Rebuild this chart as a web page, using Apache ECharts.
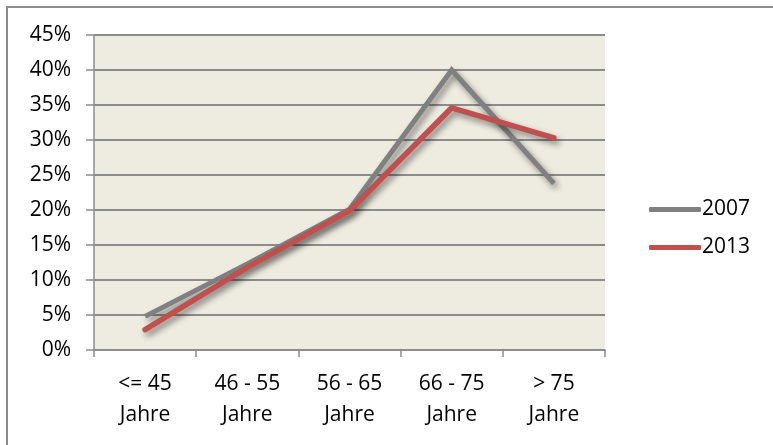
<!DOCTYPE html>
<html>
<head>
<meta charset="utf-8">
<script src="https://cdn.jsdelivr.net/npm/echarts@6/dist/echarts.min.js"></script>
<style>
  html, body { margin: 0; padding: 0; background: #fff; }
  #chart { width: 773px; height: 445px; }
</style>
</head>
<body>
<div id="chart"></div>
<script>
// Altersgruppen
var categories = ['<= 45\nJahre', '46 - 55\nJahre', '56 - 65\nJahre', '66 - 75\nJahre', '> 75\nJahre'];
// Anteile in %
var values2007 = [4.8, 12.3, 20.1, 40.0, 23.8];
var values2013 = [2.9, 11.8, 19.9, 34.6, 30.3];
var yTicks = [0, 5, 10, 15, 20, 25, 30, 35, 40, 45];

var chart = echarts.init(document.getElementById('chart'));

var lineShadow = {
    shadowColor: 'rgba(0,0,0,0.45)',
    shadowBlur: 6,
    shadowOffsetX: 3,
    shadowOffsetY: 4
};

var option = {
    animation: false,
    textStyle: { fontFamily: 'Open Sans', color: '#000' },
    // nur oberer und linker Rahmen sichtbar (Bild beschnitten)
    graphic: [{
        type: 'rect',
        shape: { x: 7, y: 7, width: 820, height: 480 },
        style: { fill: null, stroke: '#8c8c8c', lineWidth: 2 },
        silent: true
    }],
    grid: {
        left: 94, right: 168, top: 35, bottom: 95,
        show: true,
        backgroundColor: '#EEEBE0',
        borderWidth: 0
    },
    legend: {
        orient: 'vertical',
        left: 644, top: 194,
        itemWidth: 52, itemHeight: 5,
        itemGap: 17,
        icon: 'roundRect',
        textStyle: { fontSize: 21, fontFamily: 'Open Sans', color: '#000', padding: [0, 0, 0, -4] },
        data: ['2007', '2013']
    },
    xAxis: {
        type: 'category',
        data: categories,
        boundaryGap: true,
        axisLine: { lineStyle: { color: '#8c8c8c', width: 1.5 } },
        axisTick: { show: true, length: 7, lineStyle: { color: '#8c8c8c', width: 1.5 } },
        axisLabel: { fontSize: 21, lineHeight: 31, margin: 19, color: '#000' }
    },
    yAxis: {
        type: 'value',
        min: 0, max: 45, interval: 5,
        axisLine: { show: true, lineStyle: { color: '#8c8c8c', width: 1.5 } },
        axisTick: { show: true, length: 8, lineStyle: { color: '#8c8c8c', width: 1.5 } },
        splitLine: { show: true, lineStyle: { color: '#8c8c8c', width: 2 } },
        axisLabel: {
            fontSize: 21, margin: 23, color: '#000',
            formatter: function (v) { return yTicks.indexOf(v) >= 0 ? v + '%' : ''; }
        }
    },
    series: [
        {
            name: '2007', type: 'line', data: values2007,
            symbol: 'none',
            color: '#808080',
            lineStyle: Object.assign({ width: 5, color: '#808080', cap: 'butt', join: 'miter' }, lineShadow)
        },
        {
            name: '2013', type: 'line', data: values2013,
            symbol: 'none',
            color: '#C0504D',
            lineStyle: Object.assign({ width: 5.5, color: '#C0504D', cap: 'round', join: 'round' }, lineShadow)
        }
    ]
};

chart.setOption(option);
</script>
</body>
</html>
